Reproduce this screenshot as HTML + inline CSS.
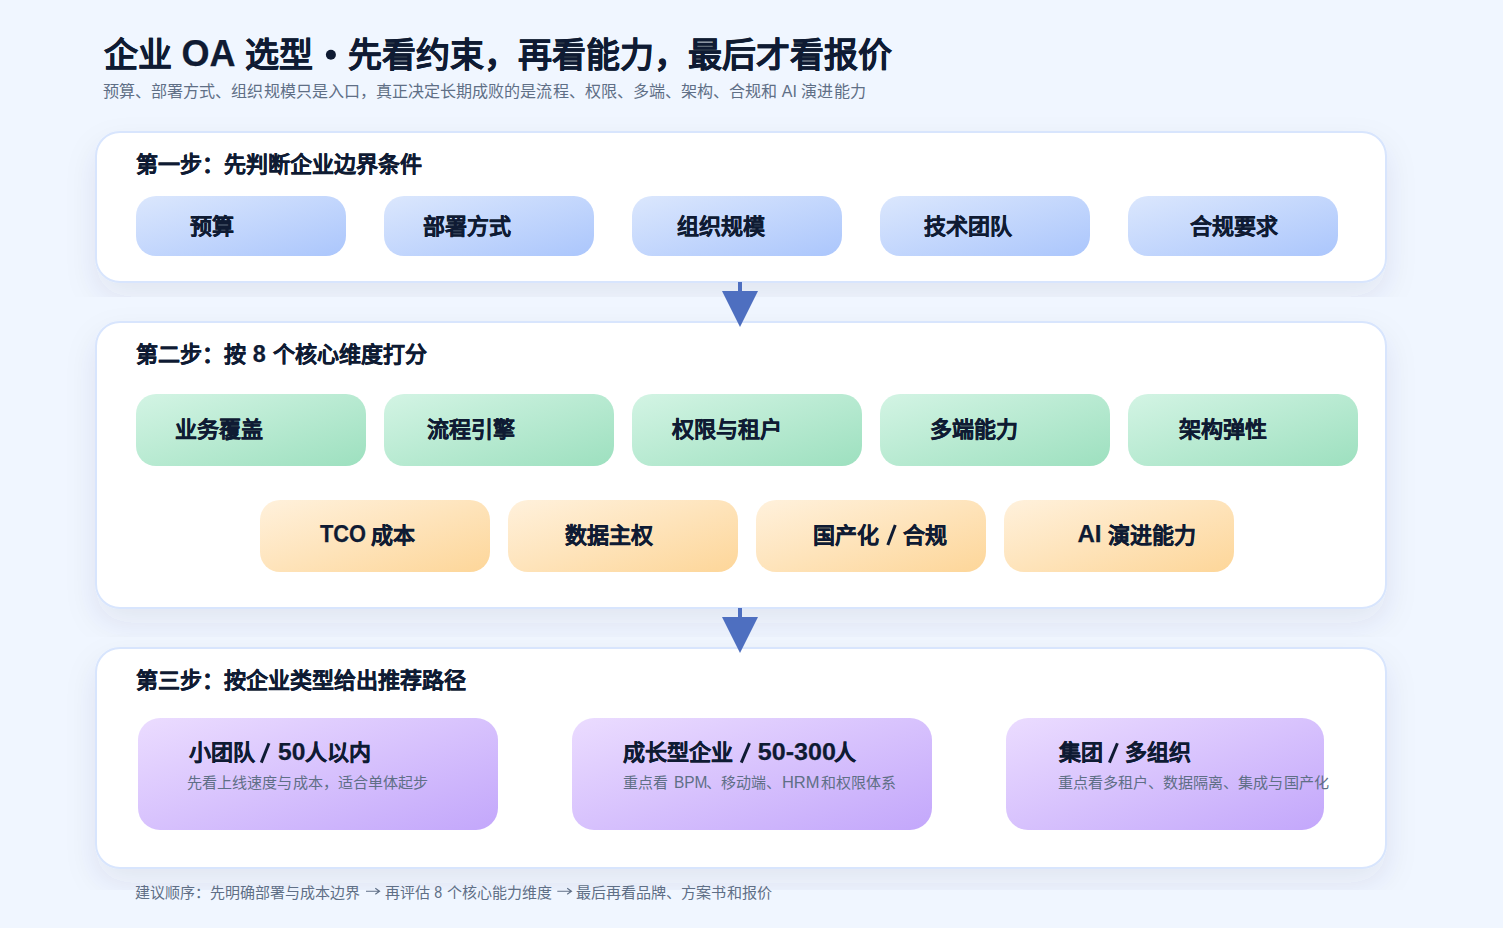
<!DOCTYPE html>
<html lang="zh-CN">
<head>
<meta charset="utf-8">
<style>
html,body{margin:0;padding:0;background:#f0f6ff;}
body{width:1503px;height:928px;overflow:hidden;}
svg{display:block;}
text{font-family:"Liberation Sans",sans-serif;}
.t{font-weight:700;fill:#0f1b33;stroke:#0f1b33;stroke-width:0.25px;}
.g{font-weight:400;fill:#5f6f86;}
</style>
</head>
<body>
<svg width="1503" height="928" viewBox="0 0 1503 928">
<defs>
  <filter id="sh">
    <feDropShadow dx="0" dy="14" stdDeviation="15" flood-color="#2a3a6a" flood-opacity="0.085"/>
  </filter>
  <linearGradient id="gb" x1="0" y1="0" x2="1" y2="1">
    <stop offset="0" stop-color="#dbe7fd"/>
    <stop offset="1" stop-color="#abc6fc"/>
  </linearGradient>
  <linearGradient id="gg" x1="0" y1="0" x2="1" y2="1">
    <stop offset="0" stop-color="#d3f4e4"/>
    <stop offset="1" stop-color="#9de0bf"/>
  </linearGradient>
  <linearGradient id="go" x1="0" y1="0" x2="1" y2="1">
    <stop offset="0" stop-color="#fff1dc"/>
    <stop offset="1" stop-color="#fdd699"/>
  </linearGradient>
  <linearGradient id="gp" x1="0" y1="0" x2="1" y2="1">
    <stop offset="0" stop-color="#ebdcff"/>
    <stop offset="1" stop-color="#c3a7fb"/>
  </linearGradient>
</defs>
<rect x="0" y="0" width="1503" height="928" fill="#f0f6ff"/>

<!-- card 1 -->
<rect x="96" y="132" width="1290" height="150" rx="24" fill="#ffffff" stroke="#d8e5fd" stroke-width="2" filter="url(#sh)"/>
<rect x="136" y="196" width="210" height="60" rx="20" fill="url(#gb)"/>
<rect x="384" y="196" width="210" height="60" rx="20" fill="url(#gb)"/>
<rect x="632" y="196" width="210" height="60" rx="20" fill="url(#gb)"/>
<rect x="880" y="196" width="210" height="60" rx="20" fill="url(#gb)"/>
<rect x="1128" y="196" width="210" height="60" rx="20" fill="url(#gb)"/>

<!-- card 2 -->
<rect x="96" y="322" width="1290" height="286" rx="24" fill="#ffffff" stroke="#d8e5fd" stroke-width="2" filter="url(#sh)"/>
<rect x="136" y="394" width="230" height="72" rx="20" fill="url(#gg)"/>
<rect x="384" y="394" width="230" height="72" rx="20" fill="url(#gg)"/>
<rect x="632" y="394" width="230" height="72" rx="20" fill="url(#gg)"/>
<rect x="880" y="394" width="230" height="72" rx="20" fill="url(#gg)"/>
<rect x="1128" y="394" width="230" height="72" rx="20" fill="url(#gg)"/>
<rect x="260" y="500" width="230" height="72" rx="20" fill="url(#go)"/>
<rect x="508" y="500" width="230" height="72" rx="20" fill="url(#go)"/>
<rect x="756" y="500" width="230" height="72" rx="20" fill="url(#go)"/>
<rect x="1004" y="500" width="230" height="72" rx="20" fill="url(#go)"/>

<!-- card 3 -->
<rect x="96" y="648" width="1290" height="220" rx="24" fill="#ffffff" stroke="#d8e5fd" stroke-width="2" filter="url(#sh)"/>
<rect x="138" y="718" width="360" height="112" rx="22" fill="url(#gp)"/>
<rect x="572" y="718" width="360" height="112" rx="22" fill="url(#gp)"/>
<rect x="1006" y="718" width="318" height="112" rx="22" fill="url(#gp)"/>

<text class="t" x="103.60" y="67" font-size="34">企业</text>
<text class="t" x="181.47" y="66" font-size="37.4" textLength="54.08" lengthAdjust="spacingAndGlyphs">OA</text>
<text class="t" x="245.20" y="67" font-size="34">选型</text>
<text class="t" x="348.20" y="67" font-size="34" textLength="543.40" lengthAdjust="spacingAndGlyphs">先看约束，再看能力，最后才看报价</text>
<text class="g" x="103.00" y="97" font-size="16" textLength="762.62" lengthAdjust="spacingAndGlyphs">预算、部署方式、组织规模只是入口，真正决定长期成败的是流程、权限、多端、架构、合规和 AI 演进能力</text>
<text class="t" x="136.00" y="172" font-size="22">第一步：先判断企业边界条件</text>
<text class="t" x="135.60" y="362" font-size="22">第二步：按</text>
<text class="t" x="252.63" y="362" font-size="24.2" textLength="13.00" lengthAdjust="spacingAndGlyphs">8</text>
<text class="t" x="273.20" y="362" font-size="22">个核心维度打分</text>
<text class="t" x="136.00" y="688" font-size="22">第三步：按企业类型给出推荐路径</text>
<text class="t" x="189.70" y="234" font-size="22">预算</text>
<text class="t" x="423.20" y="234" font-size="22">部署方式</text>
<text class="t" x="677.30" y="234" font-size="22">组织规模</text>
<text class="t" x="924.30" y="234" font-size="22">技术团队</text>
<text class="t" x="1189.80" y="234" font-size="22">合规要求</text>
<text class="t" x="175.40" y="436.5" font-size="22">业务覆盖</text>
<text class="t" x="427.30" y="436.5" font-size="22">流程引擎</text>
<text class="t" x="672.20" y="436.5" font-size="22">权限与租户</text>
<text class="t" x="929.60" y="436.5" font-size="22">多端能力</text>
<text class="t" x="1179.40" y="436.5" font-size="22">架构弹性</text>
<text class="t" x="320.00" y="542" font-size="24.2" textLength="46.06" lengthAdjust="spacingAndGlyphs">TCO</text>
<text class="t" x="371.30" y="542.5" font-size="22">成本</text>
<text class="t" x="565.00" y="542.5" font-size="22">数据主权</text>
<text class="t" x="813.00" y="542.5" font-size="22">国产化</text>
<text class="t" x="903.30" y="542.5" font-size="22">合规</text>
<text class="t" x="1077.40" y="542" font-size="24.2" textLength="24.08" lengthAdjust="spacingAndGlyphs">AI</text>
<text class="t" x="1108.10" y="542.5" font-size="22">演进能力</text>
<text class="t" x="188.60" y="760" font-size="22">小团队</text>
<text class="t" x="277.98" y="760" font-size="24.2" textLength="27.34" lengthAdjust="spacingAndGlyphs">50</text>
<text class="t" x="304.70" y="760" font-size="22">人以内</text>
<text class="t" x="623.30" y="760" font-size="22">成长型企业</text>
<text class="t" x="757.76" y="760" font-size="24.2" textLength="78.11" lengthAdjust="spacingAndGlyphs">50-300</text>
<text class="t" x="834.30" y="760" font-size="22">人</text>
<text class="t" x="1058.50" y="760" font-size="22">集团</text>
<text class="t" x="1125.30" y="760" font-size="22">多组织</text>
<text class="g" x="186.99" y="788" font-size="15" textLength="241.31" lengthAdjust="spacingAndGlyphs">先看上线速度与成本，适合单体起步</text>
<text class="g" x="623.20" y="788" font-size="15">重点看</text>
<text class="g" x="673.96" y="788" font-size="16.5" textLength="33.49" lengthAdjust="spacingAndGlyphs">BPM</text>
<text class="g" x="706.00" y="788" font-size="15">、移动端、</text>
<text class="g" x="781.90" y="788" font-size="16.5">HRM</text>
<text class="g" x="821.40" y="788" font-size="15">和权限体系</text>
<text class="g" x="1057.50" y="788" font-size="15" textLength="271.21" lengthAdjust="spacingAndGlyphs">重点看多租户、数据隔离、集成与国产化</text>
<text class="g" x="135.00" y="898" font-size="15">建议顺序：先明确部署与成本边界</text>
<text class="g" x="384.50" y="898" font-size="15">再评估</text>
<text class="g" x="434.34" y="898" font-size="16.5" textLength="7.92" lengthAdjust="spacingAndGlyphs">8</text>
<text class="g" x="446.70" y="898" font-size="15">个核心能力维度</text>
<text class="g" x="575.69" y="898" font-size="15" textLength="196.11" lengthAdjust="spacingAndGlyphs">最后再看品牌、方案书和报价</text>
<g stroke="#0f1b33" stroke-width="3" stroke-linecap="butt">
<path d="M261.3 762.6 L269.0 743.2"/>
<path d="M741.3 762.6 L749.5 743.2"/>
<path d="M1109.4 762.6 L1117.4 743.2"/>
<path d="M887.8 545 L895.3 525"/>
</g>
<circle cx="330.9" cy="54.8" r="5" fill="#0f1b33"/>

<!-- footer arrows -->
<path d="M366 891.3 H379.3 M375.3 888.3 L379.6 891.3 L375.3 894.3" fill="none" stroke="#5f6f86" stroke-width="1.1"/>
<path d="M557.3 891.3 H571.2 M567.2 888.3 L571.5 891.3 L567.2 894.3" fill="none" stroke="#5f6f86" stroke-width="1.1"/>

<!-- arrows -->
<line x1="740" y1="282" x2="740" y2="292" stroke="#4e6fc0" stroke-width="4"/>
<path d="M722 291 L758 291 L740 327 Z" fill="#4e6fc0"/>
<line x1="740" y1="608" x2="740" y2="618" stroke="#4e6fc0" stroke-width="4"/>
<path d="M722 617 L758 617 L740 653 Z" fill="#4e6fc0"/>
</svg>
</body>
</html>
